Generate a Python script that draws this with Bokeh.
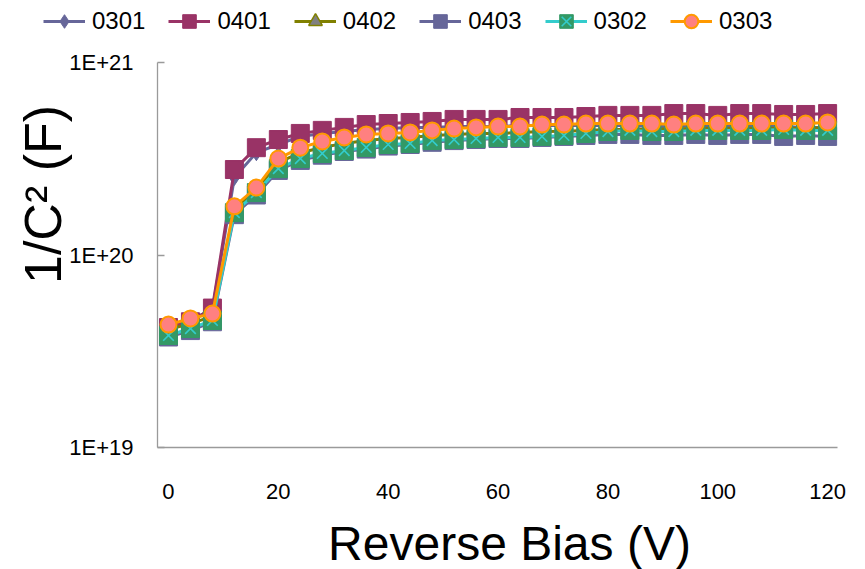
import math
from bokeh.plotting import figure
from bokeh.models import Range1d, FixedTicker, CustomJSTickFormatter, Legend, LegendItem, Label
from bokeh.embed import file_html
from bokeh.resources import INLINE

bias = [0, 4, 8, 12, 16, 20, 24, 28, 32, 36, 40, 44, 48, 52, 56, 60,
        64, 68, 72, 76, 80, 84, 88, 92, 96, 100, 104, 108, 112, 116, 120]

s0301 = [4.3e19, 4.6e19, 5.2e19, 2.53e20, 3.40e20, 3.75e20, 4.13e20, 4.28e20, 4.38e20, 4.49e20,
         4.54e20, 4.60e20, 4.60e20, 4.65e20, 4.65e20, 4.65e20, 4.70e20, 4.70e20, 4.70e20, 4.70e20,
         4.70e20, 4.70e20, 4.65e20, 4.65e20, 4.70e20, 4.65e20, 4.65e20, 4.70e20, 4.65e20, 4.60e20, 4.60e20]
s0401 = [4.2e19, 4.5e19, 5.3e19, 2.78e20, 3.61e20, 3.98e20, 4.28e20, 4.44e20, 4.60e20, 4.76e20,
         4.82e20, 4.88e20, 4.94e20, 5.06e20, 5.06e20, 5.06e20, 5.18e20, 5.18e20, 5.18e20, 5.24e20,
         5.31e20, 5.31e20, 5.31e20, 5.43e20, 5.43e20, 5.31e20, 5.43e20, 5.43e20, 5.37e20, 5.37e20, 5.43e20]
s0402 = [4.1e19, 4.4e19, 4.8e19, 1.72e20, 2.18e20, 3.02e20, 3.40e20, 3.62e20, 3.80e20, 3.93e20,
         4.03e20, 4.08e20, 4.18e20, 4.23e20, 4.28e20, 4.28e20, 4.33e20, 4.38e20, 4.40e20, 4.44e20,
         4.49e20, 4.49e20, 4.52e20, 4.52e20, 4.55e20, 4.55e20, 4.55e20, 4.55e20, 4.55e20, 4.55e20, 4.58e20]
s0403 = [3.75e19, 4.05e19, 4.5e19, 1.62e20, 2.05e20, 2.75e20, 3.10e20, 3.30e20, 3.45e20, 3.55e20,
         3.68e20, 3.75e20, 3.85e20, 3.93e20, 3.98e20, 4.03e20, 4.03e20, 4.08e20, 4.13e20, 4.18e20,
         4.23e20, 4.23e20, 4.18e20, 4.18e20, 4.23e20, 4.18e20, 4.23e20, 4.23e20, 4.13e20, 4.18e20, 4.13e20]
s0302 = [3.82e19, 4.15e19, 4.57e19, 1.66e20, 2.11e20, 2.81e20, 3.17e20, 3.37e20, 3.49e20, 3.62e20,
         3.75e20, 3.80e20, 3.93e20, 3.98e20, 4.03e20, 4.08e20, 4.08e20, 4.13e20, 4.18e20, 4.28e20,
         4.38e20, 4.44e20, 4.38e20, 4.38e20, 4.44e20, 4.44e20, 4.44e20, 4.44e20, 4.49e20, 4.44e20, 4.44e20]
s0303 = [4.35e19, 4.68e19, 4.96e19, 1.79e20, 2.24e20, 3.17e20, 3.61e20, 3.89e20, 4.08e20, 4.23e20,
         4.28e20, 4.33e20, 4.44e20, 4.54e20, 4.60e20, 4.65e20, 4.65e20, 4.76e20, 4.76e20, 4.82e20,
         4.82e20, 4.82e20, 4.82e20, 4.76e20, 4.82e20, 4.82e20, 4.82e20, 4.82e20, 4.82e20, 4.82e20, 4.88e20]

x_ticks = [0, 20, 40, 60, 80, 100, 120]
y_ticks = [1e19, 1e20, 1e21]

FONT = "Liberation Sans"

series = [
    ("0301", s0301, "#666699", dict(marker="diamond", size=16, fill_color="#666699", line_color="#666699")),
    ("0401", s0401, "#993366", dict(marker="square", size=18, fill_color="#993366", line_color="#993366")),
    ("0402", s0402, "#808000", dict(marker="triangle", size=16, fill_color="#808080", line_color="#808000", line_width=1.5)),
    ("0403", s0403, "#666699", dict(marker="square", size=18, fill_color="#666699", line_color="#666699")),
    ("0302", s0302, "#33CCCC", dict(marker="square", size=18, fill_color="#339966", line_color="#339966")),
    ("0303", s0303, "#FF9900", dict(marker="circle", size=16, fill_color="#FF8080", line_color="#FF9900", line_width=2)),
]

# The plot frame covers the whole canvas; the visible axes are drawn at fixed
# locations with bounds, so legend and titles can sit inside the frame.
W, H = 865, 569
AX_L, AX_R, AX_T, AX_B = 157, 837, 62, 447      # pixel box of the drawn axes
XA0, XA1 = -2.0, 121.8                          # x at AX_L / AX_R
YA0, YA1 = 1e19, 1e21                           # y at AX_B / AX_T

xs = (AX_R - AX_L) / (XA1 - XA0)
X0, X1 = XA0 - AX_L / xs, XA1 + (W - AX_R) / xs
ys = (AX_B - AX_T) / (math.log10(YA1) - math.log10(YA0))
Y1 = 10 ** (math.log10(YA1) + AX_T / ys)
Y0 = 10 ** (math.log10(YA0) - (H - AX_B) / ys)

def px_to_x(px):
    return X0 + px / xs

def py_to_y(py):
    return 10 ** (math.log10(Y1) - py / ys)

p = figure(width=W, height=H, output_backend="svg", toolbar_location=None, title=None,
           y_axis_type="log", x_range=Range1d(X0, X1), y_range=Range1d(Y0, Y1),
           min_border_left=0, min_border_top=0, min_border_right=0, min_border_bottom=0)
p.outline_line_color = None
p.xgrid.visible = False
p.ygrid.visible = False
p.background_fill_color = "white"
p.border_fill_color = "white"

axis_col = "#9a9a9a"
for ax in (p.xaxis[0], p.yaxis[0]):
    ax.axis_line_color = axis_col
    ax.axis_line_width = 1.3
    ax.major_tick_line_color = axis_col
    ax.major_tick_line_width = 1.3
    ax.minor_tick_line_color = None
    ax.major_label_text_font = FONT
    ax.major_label_text_font_size = "22px"
    ax.major_label_text_color = "black"

p.xaxis.ticker = FixedTicker(ticks=x_ticks)
p.xaxis.fixed_location = YA0
p.xaxis.bounds = (XA0, XA1)
p.xaxis.major_tick_in = 0
p.xaxis.major_tick_out = 0
p.xaxis.major_label_standoff = 36

p.yaxis.ticker = FixedTicker(ticks=y_ticks, minor_ticks=[])
p.yaxis.formatter = CustomJSTickFormatter(code="return '1E+' + Math.round(Math.log10(tick));")
p.yaxis.fixed_location = XA0
p.yaxis.bounds = (YA0, YA1)
p.yaxis.major_tick_in = 7
p.yaxis.major_tick_out = 0
p.yaxis.major_label_standoff = 24

items = []
for name, yv, lc, mk in series:
    rl = p.line(bias, yv, line_color=lc, line_width=3)
    rm = p.scatter(bias, yv, **mk)
    rends = [rl, rm]
    if name == "0302":
        rx = p.scatter(bias, yv, marker="x", size=15, line_color="#33CCCC", line_width=1.6)
        rends.append(rx)
    items.append(LegendItem(label=name, renderers=rends))

legend = Legend(items=items, orientation="horizontal", location=(43, H - 38),
                glyph_width=42, glyph_height=34, label_standoff=7, spacing=23,
                padding=0, margin=0, border_line_color=None, background_fill_alpha=0,
                label_text_font=FONT, label_text_font_size="24px", label_text_color="black")
p.add_layout(legend)

ylab = Label(x=px_to_x(42), y=py_to_y(194), text="1/C² (F)", angle=math.pi / 2,
             text_align="center", text_baseline="middle", text_font=FONT,
             text_font_size="52px", text_color="black")
p.add_layout(ylab)

xlab = Label(x=px_to_x(509), y=py_to_y(543), text="Reverse Bias (V)",
             text_align="center", text_baseline="middle", text_font=FONT,
             text_font_size="48px", text_color="black")
p.add_layout(xlab)

open("out.html", "w").write(file_html(p, INLINE))
